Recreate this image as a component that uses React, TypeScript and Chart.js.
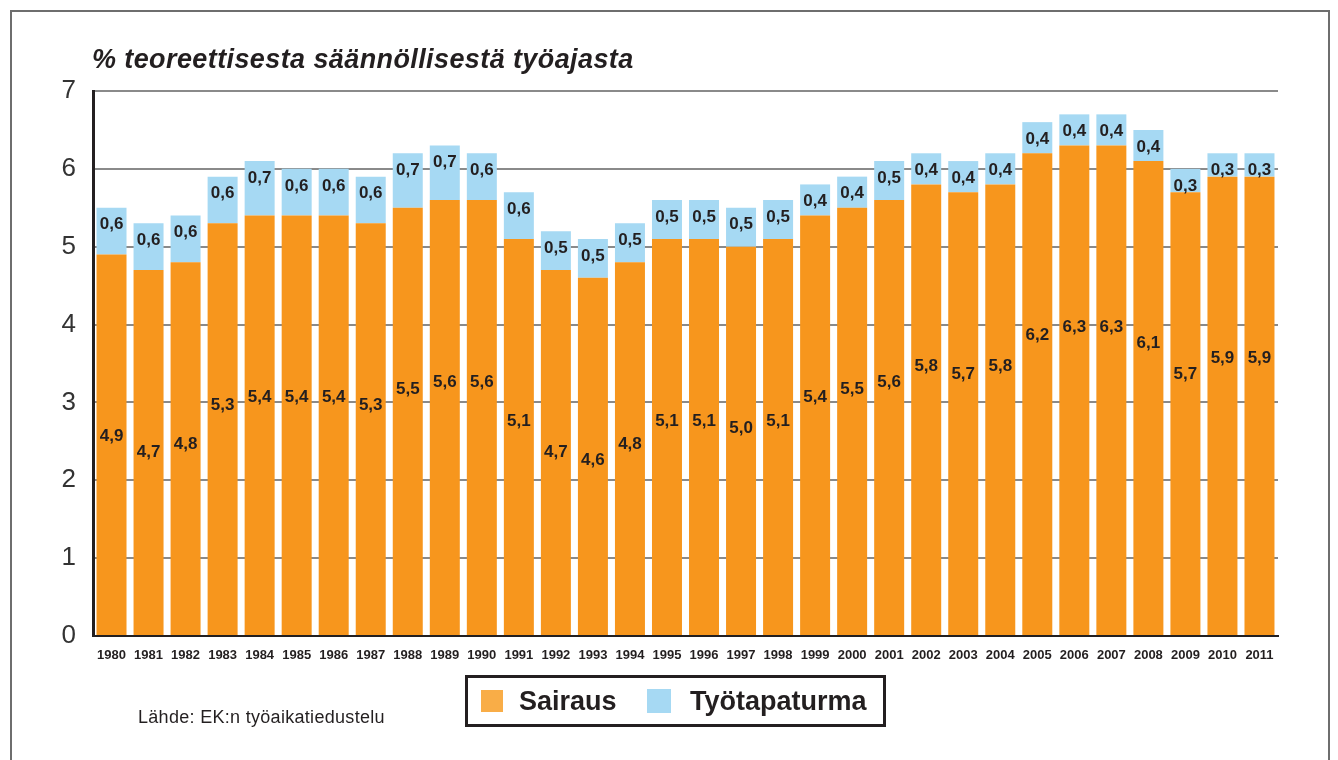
import React, { useEffect, useRef } from "react";
import { Chart, registerables } from "chart.js";

Chart.register(...registerables);

const years = [
  "1980", "1981", "1982", "1983", "1984", "1985", "1986", "1987", "1988", "1989",
  "1990", "1991", "1992", "1993", "1994", "1995", "1996", "1997", "1998", "1999",
  "2000", "2001", "2002", "2003", "2004", "2005", "2006", "2007", "2008", "2009",
  "2010", "2011",
];
const sairaus = [
  4.9, 4.7, 4.8, 5.3, 5.4, 5.4, 5.4, 5.3, 5.5, 5.6,
  5.6, 5.1, 4.7, 4.6, 4.8, 5.1, 5.1, 5.0, 5.1, 5.4,
  5.5, 5.6, 5.8, 5.7, 5.8, 6.2, 6.3, 6.3, 6.1, 5.7,
  5.9, 5.9,
];
const tyotapaturma = [
  0.6, 0.6, 0.6, 0.6, 0.7, 0.6, 0.6, 0.6, 0.7, 0.7,
  0.6, 0.6, 0.5, 0.5, 0.5, 0.5, 0.5, 0.5, 0.5, 0.4,
  0.4, 0.5, 0.4, 0.4, 0.4, 0.4, 0.4, 0.4, 0.4, 0.3,
  0.3, 0.3,
];
const yTicks = [0, 1, 2, 3, 4, 5, 6, 7];
const seriesNames = ["Sairaus", "Työtapaturma"];
const titleText = "% teoreettisesta säännöllisestä työajasta";
const sourceText = "Lähde: EK:n työaikatiedustelu";

const ORANGE = "#F7961D";
const BLUE = "#A6D9F3";
const DARK = "#231F20";
const FONT = "'Liberation Sans', Arial, Helvetica, sans-serif";

const labelPlugin = {
  id: "barLabels",
  afterDatasetsDraw(chart: any) {
    const ctx = chart.ctx;
    ctx.save();
    ctx.font = `bold 17px ${FONT}`;
    ctx.fillStyle = DARK;
    ctx.textAlign = "center";
    ctx.textBaseline = "middle";
    chart.data.datasets.forEach((ds: any, di: number) => {
      const meta = chart.getDatasetMeta(di);
      meta.data.forEach((el: any, i: number) => {
        const v = ds.data[i] as number;
        const txt = v.toFixed(1).replace(".", ",");
        const y = di === 0 ? el.y + 182 : el.y + 17;
        ctx.fillText(txt, el.x, y);
      });
    });
    ctx.restore();
  },
};

export default function App() {
  const canvasRef = useRef<HTMLCanvasElement | null>(null);

  useEffect(() => {
    const canvas = canvasRef.current;
    if (!canvas) return;
    const chart = new Chart(canvas, {
      type: "bar",
      data: {
        labels: years,
        datasets: [
          {
            label: seriesNames[0],
            data: sairaus,
            backgroundColor: ORANGE,
            borderWidth: 0,
            barPercentage: 0.81,
            categoryPercentage: 1,
          },
          {
            label: seriesNames[1],
            data: tyotapaturma,
            backgroundColor: BLUE,
            borderWidth: 0,
            barPercentage: 0.81,
            categoryPercentage: 1,
          },
        ],
      },
      options: {
        responsive: false,
        animation: false,
        layout: { padding: { top: 91, right: 60, left: 0, bottom: 0 } },
        plugins: {
          legend: { display: false },
          title: { display: false },
          tooltip: { enabled: false },
        },
        scales: {
          x: {
            stacked: true,
            grid: { display: false, drawTicks: false },
            border: { display: true, color: DARK, width: 2 },
            ticks: {
              color: DARK,
              font: { family: FONT, size: 13, weight: "bold" },
              padding: 12,
              maxRotation: 0,
              autoSkip: false,
            },
            afterFit(scale: any) {
              scale.height = 124;
            },
          },
          y: {
            stacked: true,
            min: 0,
            max: 7,
            afterBuildTicks(scale: any) {
              scale.ticks = yTicks.map((v) => ({ value: v }));
            },
            grid: { color: "#8A8A8A", lineWidth: 2, drawTicks: false },
            border: { display: true, color: DARK, width: 3 },
            ticks: {
              color: "#333333",
              font: { family: FONT, size: 26 },
              padding: 17,
              callback: (v: any) => String(v),
            },
            afterFit(scale: any) {
              scale.width = 93;
            },
          },
        },
      },
      plugins: [labelPlugin],
    });
    return () => chart.destroy();
  }, []);

  return (
    <div
      style={{
        position: "fixed",
        left: 0,
        top: 0,
        width: 1338,
        height: 760,
        background: "#fff",
        overflow: "hidden",
        fontFamily: FONT,
      }}
    >
      <div
        style={{
          position: "absolute",
          left: 10,
          top: 10,
          width: 1320,
          height: 800,
          border: "2px solid #6E6E6E",
          boxSizing: "border-box",
        }}
      />
      <canvas
        ref={canvasRef}
        width={1338}
        height={760}
        style={{ position: "absolute", left: 0, top: 0, width: 1338, height: 760 }}
      />
      <div
        style={{
          position: "absolute",
          left: 92,
          top: 43,
          fontSize: 27,
          letterSpacing: 0.4,
          fontWeight: "bold",
          fontStyle: "italic",
          color: DARK,
          lineHeight: "32px",
          whiteSpace: "nowrap",
        }}
      >
        {titleText}
      </div>
      <div
        style={{
          position: "absolute",
          left: 138,
          top: 706,
          fontSize: 18,
          letterSpacing: 0.3,
          color: DARK,
          lineHeight: "22px",
          whiteSpace: "nowrap",
        }}
      >
        {sourceText}
      </div>
      <div
        style={{
          position: "absolute",
          left: 465,
          top: 675,
          width: 421,
          height: 52,
          border: `3px solid ${DARK}`,
          boxSizing: "border-box",
          color: DARK,
          fontWeight: "bold",
          fontSize: 27,
        }}
      >
        <span
          style={{
            position: "absolute",
            left: 13,
            top: 12,
            width: 22,
            height: 22,
            background: "#F9AD47",
          }}
        />
        <span style={{ position: "absolute", left: 51, top: 7, lineHeight: "32px" }}>
          {seriesNames[0]}
        </span>
        <span
          style={{
            position: "absolute",
            left: 179,
            top: 11,
            width: 24,
            height: 24,
            background: BLUE,
          }}
        />
        <span style={{ position: "absolute", left: 222, top: 7, lineHeight: "32px" }}>
          {seriesNames[1]}
        </span>
      </div>
    </div>
  );
}
